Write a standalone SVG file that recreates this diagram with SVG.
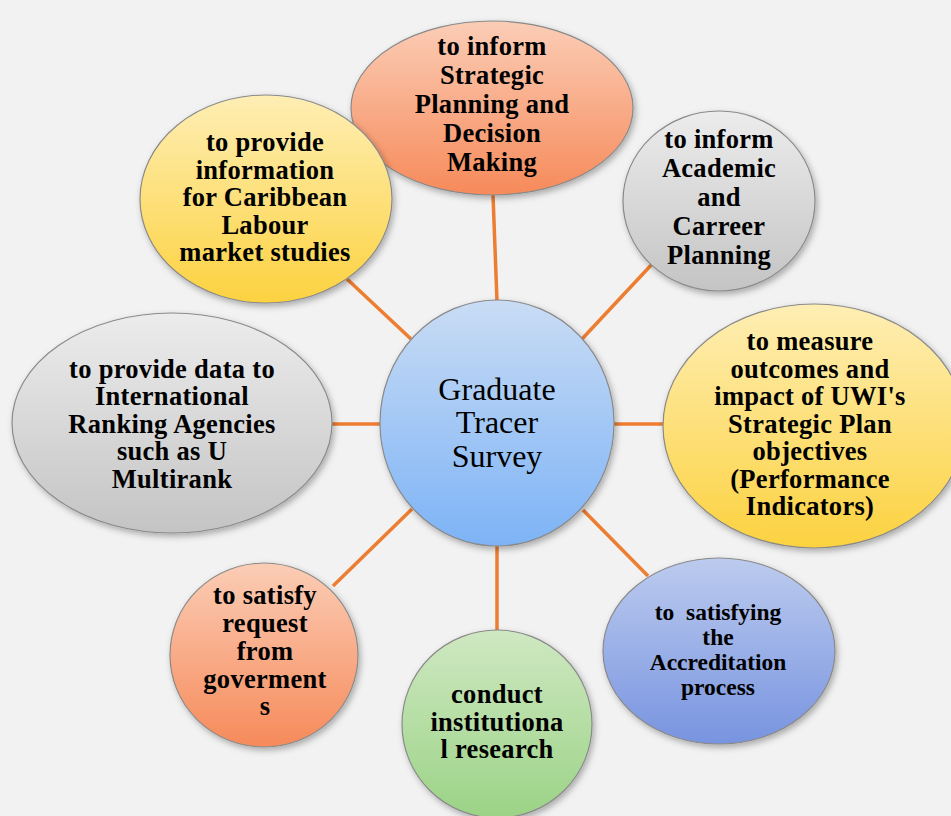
<svg xmlns="http://www.w3.org/2000/svg" width="951" height="816" viewBox="0 0 951 816">
<defs>
<linearGradient id="gBlue" x1="0" y1="0" x2="0" y2="1"><stop offset="0" stop-color="#c9dcf4"/><stop offset="1" stop-color="#7db3f6"/></linearGradient>
<linearGradient id="gSalmon" x1="0" y1="0" x2="0" y2="1"><stop offset="0" stop-color="#fbcdb6"/><stop offset="1" stop-color="#f68a5a"/></linearGradient>
<linearGradient id="gYellow" x1="0" y1="0" x2="0" y2="1"><stop offset="0" stop-color="#feeeb4"/><stop offset="1" stop-color="#fcd240"/></linearGradient>
<linearGradient id="gGray" x1="0" y1="0" x2="0" y2="1"><stop offset="0" stop-color="#ececec"/><stop offset="1" stop-color="#c4c4c4"/></linearGradient>
<linearGradient id="gPeri" x1="0" y1="0" x2="0" y2="1"><stop offset="0" stop-color="#bccbee"/><stop offset="1" stop-color="#7894e0"/></linearGradient>
<linearGradient id="gGreen" x1="0" y1="0" x2="0" y2="1"><stop offset="0" stop-color="#cfe8c2"/><stop offset="1" stop-color="#9bd386"/></linearGradient>
<filter id="sh" x="-20%" y="-20%" width="140%" height="140%"><feDropShadow dx="2" dy="3" stdDeviation="3" flood-color="#000" flood-opacity="0.3"/></filter>
</defs>
<style>
.bg{fill:#f2f2f2}
.conn line{stroke:#ed7d31;stroke-width:3.5;stroke-linecap:butt}
.node ellipse{stroke:#8a8a8a;stroke-width:1.2;filter:url(#sh)}
.t{font-family:"Liberation Serif","Times New Roman",serif;font-weight:bold;font-size:26.5px;letter-spacing:0.3px;fill:#000;text-anchor:middle}
.s{font-size:23.5px;letter-spacing:0}
.c{font-family:"Liberation Serif","Times New Roman",serif;font-size:32px;fill:#000;text-anchor:middle}
</style>
<rect class="bg" width="951" height="816"/>
<g id="connectors" class="conn">
<line x1="493" y1="195" x2="497" y2="301"/>
<line x1="654" y1="262" x2="582" y2="339"/>
<line x1="347" y1="279" x2="411" y2="339"/>
<line x1="330" y1="424" x2="381" y2="424"/>
<line x1="614" y1="424" x2="665" y2="424"/>
<line x1="333" y1="586" x2="412" y2="509"/>
<line x1="497" y1="546" x2="497" y2="632"/>
<line x1="583" y1="510" x2="648" y2="576"/>
</g>
<g id="n-strategic" class="node">
<ellipse cx="492" cy="108" rx="141" ry="87" fill="url(#gSalmon)"/>
<text class="t" x="492" y="55">to inform</text>
<text class="t" x="492" y="84">Strategic</text>
<text class="t" x="492" y="113">Planning and</text>
<text class="t" x="492" y="142">Decision</text>
<text class="t" x="492" y="171">Making</text>
</g>
<g id="n-caribbean" class="node">
<ellipse cx="266" cy="199" rx="126" ry="104" fill="url(#gYellow)"/>
<text class="t" x="265" y="151">to provide</text>
<text class="t" x="265" y="179">information</text>
<text class="t" x="265" y="206">for Caribbean</text>
<text class="t" x="265" y="234">Labour</text>
<text class="t" x="265" y="261">market studies</text>
</g>
<g id="n-academic" class="node">
<ellipse cx="719" cy="201" rx="96" ry="90" fill="url(#gGray)"/>
<text class="t" x="719" y="148">to inform</text>
<text class="t" x="719" y="177">Academic</text>
<text class="t" x="719" y="206">and</text>
<text class="t" x="719" y="235">Carreer</text>
<text class="t" x="719" y="264">Planning</text>
</g>
<g id="n-ranking" class="node">
<ellipse cx="172" cy="423" rx="160" ry="110" fill="url(#gGray)"/>
<text class="t" x="172" y="378">to provide data to</text>
<text class="t" x="172" y="405">International</text>
<text class="t" x="172" y="433">Ranking Agencies</text>
<text class="t" x="172" y="460">such as U</text>
<text class="t" x="172" y="488">Multirank</text>
</g>
<g id="n-center" class="node">
<ellipse cx="497" cy="423" rx="117" ry="123" fill="url(#gBlue)"/>
<text class="c" x="497" y="400">Graduate</text>
<text class="c" x="497" y="433">Tracer</text>
<text class="c" x="497" y="467">Survey</text>
</g>
<g id="n-measure" class="node">
<ellipse cx="814" cy="426" rx="151" ry="122" fill="url(#gYellow)"/>
<text class="t" x="810" y="350">to measure</text>
<text class="t" x="810" y="378">outcomes and</text>
<text class="t" x="810" y="405">impact of UWI's</text>
<text class="t" x="810" y="433">Strategic Plan</text>
<text class="t" x="810" y="460">objectives</text>
<text class="t" x="810" y="488">(Performance</text>
<text class="t" x="810" y="515">Indicators)</text>
</g>
<g id="n-accreditation" class="node">
<ellipse cx="719" cy="651" rx="116" ry="93" fill="url(#gPeri)"/>
<text class="t s" x="718" y="620" xml:space="preserve">to  satisfying</text>
<text class="t s" x="718" y="645">the</text>
<text class="t s" x="718" y="670">Accreditation</text>
<text class="t s" x="718" y="695">process</text>
</g>
<g id="n-research" class="node">
<ellipse cx="497" cy="724" rx="95" ry="94" fill="url(#gGreen)"/>
<text class="t" x="497" y="703">conduct</text>
<text class="t" x="497" y="731">institutiona</text>
<text class="t" x="497" y="758">l research</text>
</g>
<g id="n-government" class="node">
<ellipse cx="264" cy="655" rx="94" ry="92" fill="url(#gSalmon)"/>
<text class="t" x="265" y="604">to satisfy</text>
<text class="t" x="265" y="632">request</text>
<text class="t" x="265" y="660">from</text>
<text class="t" x="265" y="688">goverment</text>
<text class="t" x="265" y="715">s</text>
</g>
</svg>
